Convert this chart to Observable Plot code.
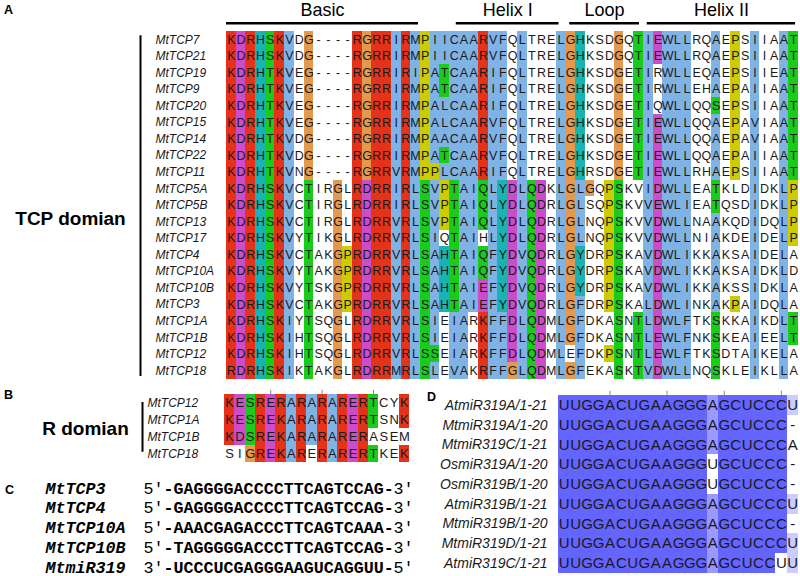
<!DOCTYPE html>
<html><head><meta charset="utf-8">
<script src="https://cdn.jsdelivr.net/npm/d3@7"></script>
<script src="https://cdn.jsdelivr.net/npm/@observablehq/plot@0.6"></script>
<style>
body{margin:0;background:#fff;}
#fig{position:relative;width:800px;height:576px;overflow:hidden;font-family:"Liberation Sans",Arial,sans-serif;background:#fff;}
#fig svg{position:absolute;overflow:visible;background:transparent;}
.plabel{position:absolute;font-weight:bold;font-size:12.5px;line-height:14px;color:#000;}
</style></head><body><div id="fig"></div>
<script>
// ---------- Panel A: TCP domain alignment ----------
const tcpNames = ["MtTCP7","MtTCP21","MtTCP19","MtTCP9","MtTCP20","MtTCP15","MtTCP14","MtTCP22","MtTCP11","MtTCP5A","MtTCP5B","MtTCP13","MtTCP17","MtTCP4","MtTCP10A","MtTCP10B","MtTCP3","MtTCP1A","MtTCP1B","MtTCP12","MtTCP18"];
const tcpSeqs = [
"KDRHSKVDG----RGRRIRMPIICAARVFQLTRELGHKSDGQTIEWLLRQAEPSIIAAT",
"KDRHSKVDG----RGRRIRMPIICAARVFQLTRELGHKSDGQTIEWLLRQAEPSIIAAT",
"KDRHTKVEG----RGRRIRIPATCAARIFQLTRELGHKSDGETIRWLLEQAEPSIIEAT",
"KDRHTKVEG----RGRRIRMPATCAARIFQLTRELGHKSDGETIRWLLEHAEPAIIAAT",
"KDRHTKVEG----RGRRIRMPALCAARIFQLTRELGHKSDGETIQWLLQQSEPSIIAAT",
"KDRHTKVEG----RGRRIRMPALCAARVFQLTRELGHKSDGETIEWLLQQAEPAVIAAT",
"KDRHTKVDG----RGRRIRMPAACAARVFQLTRELGHKSDGETIEWLLQQAEPAVIAAT",
"KDRHTKVDG----RGRRIRMPATCAARVFQLTRELGHKSDGETIEWLLQQAEPAIIAAT",
"KDRHTKVNG----RGRRVRMPPLCAARIFQLTRELGHRSDGETIEWLLRHAEPSIIAAT",
"KDRHSKVCTIRGLRDRRIRLSVPTAIQLYDLQDKLGLGQPSKVIDWLLEATKLDIDKLP",
"KDRHSKVCTIRGLRDRRIRLSVPTAIQLYDLQDRLGLSQPSKVVEWLIEATQSDIDKLP",
"KDRHSKVCTIRGLRDRRVRLSVPTAIQLYDLQDRLGLNQPSKVVDWLLNAAKQDIDQLP",
"KDRHSKVYTIKGLRDRRVRLSIQTAIHLYDLQDRLGLNQPSKVVDWLLNIAKDEIDELP",
"KDRHSKVCTAKGPRDRRVRLSAHTAIQFYDVQDRLGYDRPSKAVDWLIKKAKSAIDELA",
"KDRHSKVYTAKGPRDRRVRLSAHTAIQFYDVQDRLGYDRPSKAVDWLIKKAKSAIDKLD",
"KDRHSKVYTSKGPRDRRVRLSAHTAIEFYDVQDRLGYDRPSKAVDWLIKKAKSSIDKLA",
"KDRHSKVCTAKGPRDRRVRLSAHTAIEFYDVQDRLGFDRPSKALDWLINKAKPAIDQLA",
"KDRHSKIYTSQGLRDRRVRLSIEIARKFFDLQDMLGFDKASNTLDWLFTKSKKAIKDLT",
"KDRHSKIHTSQGLRDRRVRLSIEIARKFFDLQDMLGFDKASNTLEWLFNKSKEAIEELT",
"KDRHSKIHTSQGLRDRRVRLSSEIARKFFDLQDMLEFDKPSNTLEWLFTKSDTAIKELA",
"RDRHSKIKTAKGLRDRRMRLSLEVAKRFFGLQDMLGFEKASKTVDWLLNQSKLEIKLLA"
];
// domain header bars: label, start column, end column (column units)
const headerLabels = ["Basic","Helix I","Loop","Helix II"];
const headerStart = [0, 23.7, 35.4, 43.4];
const headerEnd = [19.8, 34.3, 42.6, 58.7];

// ---------- Panel B: R domain ----------
const rNames = ["MtTCP12","MtTCP1A","MtTCP1B","MtTCP18"];
const rSeqs = ["KESRERARARARERTCYK","KESREKARARARERTSNK","KDSREKARARARERASEM","SIGREKARERARERTKEK"];

// ---------- Panel C: miR319 target sites ----------
const cNames = ["MtTCP3","MtTCP4","MtTCP10A","MtTCP10B","MtmiR319"];
const cLeftEnd = ["5\u2032","5\u2032","5\u2032","5\u2032","3\u2032"];
const cSeqs = ["GAGGGGACCCCTTCAGTCCAG","GAGGGGACCCCTTCAGTCCAG","AAACGAGACCCTTCAGTCAAA","TAGGGGGACCCTTCAGTCCAG","UCCCUCGAGGGAAGUCAGGUU"];
const cRightEnd = ["3\u2032","3\u2032","3\u2032","3\u2032","5\u2032"];

// ---------- Panel D: miR319 alignment ----------
const dNames = ["AtmiR319A/1-21","MtmiR319A/1-20","MtmiR319C/1-21","OsmiR319A/1-20","OsmiR319B/1-20","AtmiR319B/1-21","MtmiR319B/1-20","MtmiR319D/1-21","AtmiR319C/1-21"];
const dSeqs = ["UUGGACUGAAGGGAGCUCCCU","UUGGACUGAAGGGAGCUCCC-","UUGGACUGAAGGGAGCUCCCA","UUGGACUGAAGGGUGCUCCC-","UUGGACUGAAGGGUGCUCCC-","UUGGACUGAAGGGAGCUCCCU","UUGGACUGAAGGGAGCUCCC-","UUGGACUGAAGGGAGCUCCCU","UUGGACUGAAGGGAGCUCCUU"];

// ---------- colour schemes (Clustal X and percentage identity) ----------
const CX = {blue:"#80b3e5", red:"#e5331a", green:"#1acc1a", orange:"#e5994c", cyan:"#1ab3b3", pink:"#e58080", magenta:"#cc4ccc", yellow:"#cccc00"};
function clustalx(seqs){
  const n = seqs.length, L = seqs[0].length, out = seqs.map(()=>[]);
  for (let j=0;j<L;j++){
    const cnt = {};
    seqs.forEach(s=>{cnt[s[j]]=(cnt[s[j]]||0)+1;});
    const pct = g => [...g].reduce((a,c)=>a+(cnt[c]||0),0)*100/n;
    const any = (g,t) => [...g].some(c=>(cnt[c]||0)*100/n>t);
    const hyd = pct("WLVIMAFCHP")>60;
    seqs.forEach((s,i)=>{
      const c=s[j]; let col=null;
      if ("AILMFWV".includes(c)) { if (hyd) col=CX.blue; }
      else if (c==="K"||c==="R") { if (pct("KR")>60||any("KRQ",85)) col=CX.red; }
      else if (c==="N") { if (pct("N")>50||any("NY",85)) col=CX.green; }
      else if (c==="C") { if (any("C",85)) col=CX.pink; else if (hyd) col=CX.blue; }
      else if (c==="Q") { if (pct("KR")>60||pct("QE")>50||any("QEKR",85)) col=CX.green; }
      else if (c==="E") { if (pct("KR")>60||pct("QE")>50||pct("ED")>50||any("EQD",85)) col=CX.magenta; }
      else if (c==="D") { if (pct("KR")>60||any("KRQ",85)||pct("ED")>50) col=CX.magenta; }
      else if (c==="G") col=CX.orange;
      else if (c==="H"||c==="Y") { if (hyd||any("WYACPQFHILMV",85)) col=CX.cyan; }
      else if (c==="P") col=CX.yellow;
      else if (c==="S"||c==="T") { if (hyd||pct("TS")>50||any("ST",85)) col=CX.green; }
      out[i][j]=col;
    });
  }
  return out;
}
function pctIdentity(seqs){
  const n = seqs.length, L = seqs[0].length, out = seqs.map(()=>[]);
  for (let j=0;j<L;j++){
    const cnt = {};
    seqs.forEach(s=>{ if (s[j]!=="-") cnt[s[j]]=(cnt[s[j]]||0)+1; });
    let cons=null, m=0; for (const k in cnt) if (cnt[k]>m){m=cnt[k];cons=k;}
    const p = m*100/n;
    seqs.forEach((s,i)=>{
      let col=null;
      if (s[j]===cons){ if (p>80) col="#6464ff"; else if (p>60) col="#9999ff"; else if (p>40) col="#ccccff"; }
      out[i][j]=col;
    });
  }
  return out;
}
function cells(seqs, colors){
  const a=[]; seqs.forEach((s,i)=>[...s].forEach((c,j)=>a.push({row:i,col:j,res:c,fill:colors[i][j]}))); return a;
}

const fig = document.getElementById("fig");
function place(svg, left, top){ svg.style.left=left+"px"; svg.style.top=top+"px"; fig.appendChild(svg); }
const baseStyle = {fontFamily:"Liberation Sans, Arial, sans-serif", fontSize:"12px", background:"transparent", overflow:"visible"};
const ink = "#1a1a1a";

// ----- Panel A plot -----
const aCells = cells(tcpSeqs, clustalx(tcpSeqs));
const headers = headerLabels.map((l,i)=>({label:l,start:headerStart[i],end:headerEnd[i]}));
const aRowH = 16.55, aTop = 31;
const plotA = Plot.plot({
  width: 800, height: aTop + tcpNames.length*aRowH,
  marginLeft: 226, marginRight: 2, marginTop: aTop, marginBottom: 0,
  style: baseStyle,
  x: {domain:[0, tcpSeqs[0].length], axis:null},
  y: {domain:[tcpNames.length, 0], axis:null},
  color: {type:"identity"},
  marks: [
    Plot.rect(aCells.filter(d=>d.fill), {x1:"col", x2:d=>d.col+1, y1:"row", y2:d=>d.row+1, fill:"fill", shapeRendering:"crispEdges"}),
    Plot.text(aCells, {x:d=>d.col+0.5, y:d=>d.row+0.5, text:"res", fontSize:12.5, fill:ink}),
    Plot.text(tcpNames, {x:0, y:(d,i)=>i+0.5, text:d=>d, textAnchor:"start", dx:-71, fontStyle:"italic", fontSize:12, fill:ink}),
    Plot.ruleY(headers, {y:-0.5, x1:"start", x2:"end", strokeWidth:2.5, stroke:"#000"}),
    Plot.text(headers, {x:d=>(d.start+d.end)/2, y:-1.3, text:"label", fontSize:18, fill:"#000"}),
    Plot.ruleX([0], {x:d=>d, y1:0.25, y2:20.85, dx:-86, strokeWidth:2, stroke:"#000"}),
    Plot.text(["TCP domian"], {x:0, y:11.3, text:d=>d, dx:-156, fontWeight:"bold", fontSize:19, fill:"#000"})
  ]
});
place(plotA, 0, 0);

// ----- Panel B plot -----
const bCells = cells(rSeqs, clustalx(rSeqs));
const bRowH = 17, bTop = 14, bTicks = [5,10,15];
const plotB = Plot.plot({
  width: 420, height: bTop + rNames.length*bRowH,
  marginLeft: 224, marginRight: 11, marginTop: bTop, marginBottom: 0,
  style: baseStyle,
  x: {domain:[0, rSeqs[0].length], axis:null},
  y: {domain:[rNames.length, 0], axis:null},
  color: {type:"identity"},
  marks: [
    Plot.rect(bCells.filter(d=>d.fill), {x1:"col", x2:d=>d.col+1, y1:"row", y2:d=>d.row+1, fill:"fill", shapeRendering:"crispEdges"}),
    Plot.text(bCells, {x:d=>d.col+0.5, y:d=>d.row+0.5, text:"res", fontSize:13, fill:ink}),
    Plot.ruleX(bTicks, {x:d=>d-0.5, y1:-0.25, y2:0, stroke:"#888", strokeWidth:1}),
    Plot.text(rNames, {x:0, y:(d,i)=>i+0.5, text:d=>d, textAnchor:"start", dx:-77, fontStyle:"italic", fontSize:12, fill:ink}),
    Plot.ruleX([0], {x:d=>d, y1:0.47, y2:3.4, dx:-82, strokeWidth:2, stroke:"#000"}),
    Plot.text(["R domian"], {x:0, y:2.05, text:d=>d, dx:-139, fontWeight:"bold", fontSize:19, fill:"#000"})
  ]
});
place(plotB, 0, 380);

// ----- Panel C plot -----
const cRows = cNames.map((n,i)=>({row:i, name:n, left:cLeftEnd[i], seq:"-"+cSeqs[i]+"-", right:cRightEnd[i]}));
const cRowH = 19.7, cTop = 8;
const mono = "Liberation Mono, Courier New, monospace";
const plotC = Plot.plot({
  width: 420, height: cTop + cNames.length*cRowH,
  marginLeft: 143, marginRight: 7, marginTop: cTop, marginBottom: 0,
  style: baseStyle,
  x: {domain:[0, 27], axis:null},
  y: {domain:[cNames.length, 0], axis:null},
  marks: [
    Plot.text(cRows, {x:0, y:d=>d.row+0.5, text:"name", textAnchor:"start", dx:-98, fontFamily:mono, fontWeight:"bold", fontStyle:"italic", fontSize:16.7, fill:"#000"}),
    Plot.text(cRows, {x:0, y:d=>d.row+0.5, text:"left", textAnchor:"start", fontFamily:mono, fontSize:16.7, fill:"#000"}),
    Plot.text(cRows, {x:2, y:d=>d.row+0.5, text:"seq", textAnchor:"start", fontFamily:mono, fontWeight:"bold", fontSize:16.7, fill:"#000"}),
    Plot.text(cRows, {x:d=>2+d.seq.length, y:d=>d.row+0.5, text:"right", textAnchor:"start", fontFamily:mono, fontSize:16.7, fill:"#000"})
  ]
});
place(plotC, 0, 470);

// ----- Panel D plot -----
const dCells = cells(dSeqs, pctIdentity(dSeqs));
const dRowH = 19.75, dTop = 15, dTicks = [5,10,15,20];
const plotD = Plot.plot({
  width: 800, height: dTop + dNames.length*dRowH,
  marginLeft: 558, marginRight: 2, marginTop: dTop, marginBottom: 0,
  style: baseStyle,
  x: {domain:[0, dSeqs[0].length], axis:null},
  y: {domain:[dNames.length, 0], axis:null},
  color: {type:"identity"},
  marks: [
    Plot.rect(dCells.filter(d=>d.fill), {x1:"col", x2:d=>d.col+1, y1:"row", y2:d=>d.row+1, fill:"fill", shapeRendering:"crispEdges"}),
    Plot.text(dCells, {x:d=>d.col+0.5, y:d=>d.row+0.5, text:"res", fontSize:15, fill:ink}),
    Plot.ruleX(dTicks, {x:d=>d-0.5, y1:-0.22, y2:0, stroke:"#888", strokeWidth:1}),
    Plot.text(dNames, {x:0, y:(d,i)=>i+0.5, text:d=>d, textAnchor:"end", dx:-11, fontStyle:"italic", fontSize:14, fill:ink})
  ]
});
place(plotD, 0, 380);

// panel letters
[["A",4,3],["B",4,388],["C",5,483],["D",427,390]].forEach(([t,x,y])=>{
  const el=document.createElement("div"); el.className="plabel"; el.textContent=t; el.style.left=x+"px"; el.style.top=y+"px"; fig.appendChild(el);
});
</script></body></html>
